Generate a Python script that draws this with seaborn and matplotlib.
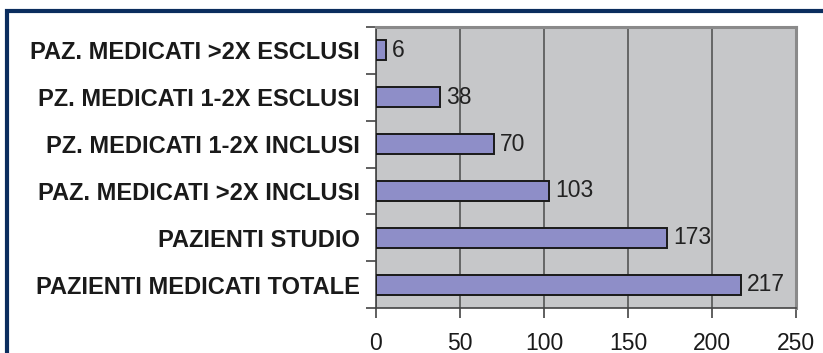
import matplotlib
matplotlib.use("Agg")
import matplotlib.pyplot as plt
from matplotlib.patches import Rectangle
from matplotlib.ticker import MultipleLocator, FixedLocator
import seaborn as sns
import pandas as pd

categories = [
    "PAZ. MEDICATI >2X ESCLUSI",
    "PZ. MEDICATI 1-2X ESCLUSI",
    "PZ. MEDICATI 1-2X INCLUSI",
    "PAZ. MEDICATI >2X INCLUSI",
    "PAZIENTI STUDIO",
    "PAZIENTI MEDICATI TOTALE",
]
values = [6, 38, 70, 103, 173, 217]
x_ticks = [0, 50, 100, 150, 200, 250]

sns.set_theme(style="white")
plt.rcParams["font.family"] = ["Liberation Sans", "DejaVu Sans"]

df = pd.DataFrame({"categoria": categories, "pazienti": values})

fig = plt.figure(figsize=(8.23, 3.53), dpi=100)
ax = fig.add_axes([376 / 823, 1 - 308 / 353, 420 / 823, 281 / 353])
ax.set_facecolor("#c6c7c9")

sns.barplot(data=df, y="categoria", x="pazienti", order=categories,
            orient="h", color="#8e8ec8", saturation=1, width=0.43,
            edgecolor="#1a1a1a", linewidth=1.4, ax=ax, zorder=3)

ax.set_xlim(0, 250)
ax.set_ylim(len(categories) - 0.5, -0.5)
ax.xaxis.set_major_locator(FixedLocator(x_ticks))
ax.set_xticklabels([str(t) for t in x_ticks])
ax.grid(axis="x", color="#555555", linewidth=1.2, zorder=1)
ax.set_axisbelow(True)

# category ticks sit on the boundaries between bars
ax.yaxis.set_minor_locator(MultipleLocator(1, offset=0.5))
ax.tick_params(axis="y", which="major", length=0, pad=11.5, labelsize=17,
               labelcolor="#1a1a1a")
ax.tick_params(axis="y", which="minor", length=7, width=1.2, color="#444444",
               left=True)
for lab in ax.get_yticklabels():
    lab.set_fontweight("bold")
ax.tick_params(axis="x", which="major", length=7, width=1.2, color="#444444",
               bottom=True, pad=10, labelsize=16.5, labelcolor="#1a1a1a")

ax.set_xlabel("")
ax.set_ylabel("")

for side in ("left", "bottom"):
    ax.spines[side].set_color("#444444")
    ax.spines[side].set_linewidth(1.2)
for side in ("top", "right"):
    ax.spines[side].set_color("#8a8a8a")
    ax.spines[side].set_linewidth(2.2)

for i, v in enumerate(values):
    ax.annotate(str(v), xy=(v, i), xytext=(4.5, 0), textcoords="offset points",
                ha="left", va="center", fontsize=16.5, color="#222222",
                zorder=4)

# outer navy frame
fig.patches.append(Rectangle((7 / 823, -0.1), 1.2, 1 - 11 / 353 + 0.1,
                             transform=fig.transFigure, fill=False,
                             edgecolor="#0b2d5e", linewidth=3.0))

fig.savefig("out.png", dpi=100)
